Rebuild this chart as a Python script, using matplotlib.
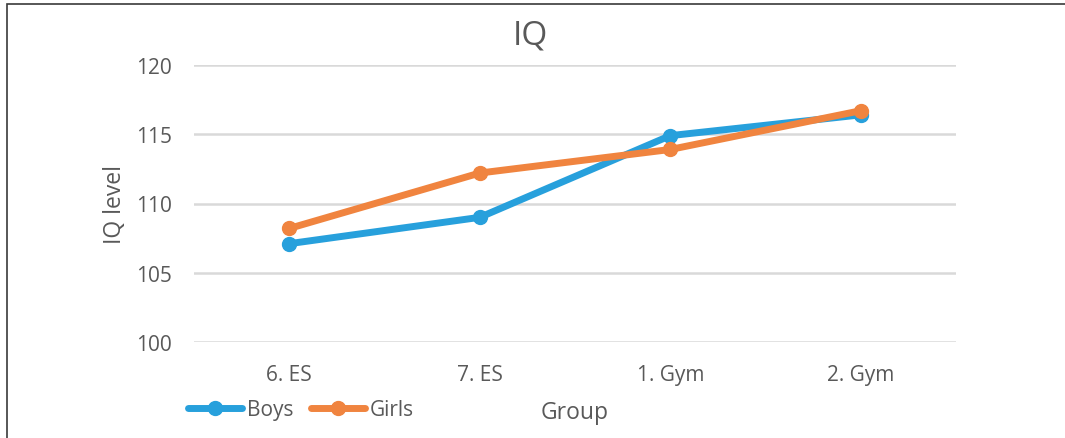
import matplotlib
matplotlib.use("Agg")
import matplotlib.pyplot as plt
from matplotlib.patches import Rectangle
from matplotlib.lines import Line2D

groups = ["6. ES", "7. ES", "1. Gym", "2. Gym"]
boys = [107.1, 109.0, 114.9, 116.4]
girls = [108.2, 112.2, 113.9, 116.7]
yticks = [100, 105, 110, 115, 120]

blue = "#27a0dc"
orange = "#f0843f"
grey = "#595959"

plt.rcParams["font.family"] = ["Open Sans", "DejaVu Sans"]

fig = plt.figure(figsize=(10.65, 4.39), dpi=100)
# outer frame
fig.patches.append(Rectangle((7 / 1065, -0.05), 1.1, 1 - 5 / 439 + 0.05,
                             transform=fig.transFigure, fill=False,
                             edgecolor="#3a3a3a", linewidth=1.2))

ax = fig.add_axes([194 / 1065, 1 - 343 / 439, (956 - 194) / 1065, (343 - 66) / 439])
x = range(len(groups))
ax.plot(x, boys, color=blue, lw=5, marker="o", ms=10, solid_capstyle="round", zorder=3)
ax.plot(x, girls, color=orange, lw=5, marker="o", ms=10, solid_capstyle="round", zorder=4)

ax.set_xlim(-0.5, 3.5)
ax.set_ylim(100, 120)
ax.set_yticks(yticks)
ax.set_xticks(list(x))
ax.set_xticklabels(groups)
ax.grid(axis="y", color="#d9d9d9", lw=1.8)
ax.set_axisbelow(True)
for s in ax.spines.values():
    s.set_visible(False)
ax.tick_params(length=0, labelsize=15, colors=grey)
ax.tick_params(axis="y", pad=16)
ax.tick_params(axis="x", pad=16)

fig.text(530 / 1065, 1 - 36 / 439, "IQ", ha="center", va="center", fontsize=24, color=grey)
fig.text(115 / 1065, 1 - 205 / 439, "IQ level", ha="center", va="center", rotation=90,
         fontsize=16.5, color=grey)
fig.text(575 / 1065, 1 - 413 / 439, "Group", ha="center", va="center", fontsize=16.5, color=grey)

handles = [Line2D([], [], color=blue, lw=5, marker="o", ms=10, solid_capstyle="round"),
           Line2D([], [], color=orange, lw=5, marker="o", ms=10, solid_capstyle="round")]
fig.legend(handles, ["Boys", "Girls"], loc="center left",
           bbox_to_anchor=(188 / 1065, 1 - 411 / 439), ncol=2, frameon=False,
           fontsize=15, labelcolor=grey, handlelength=2.6, handletextpad=0.25,
           columnspacing=0.8, borderaxespad=0, borderpad=0)

fig.savefig("out.png", dpi=100)
